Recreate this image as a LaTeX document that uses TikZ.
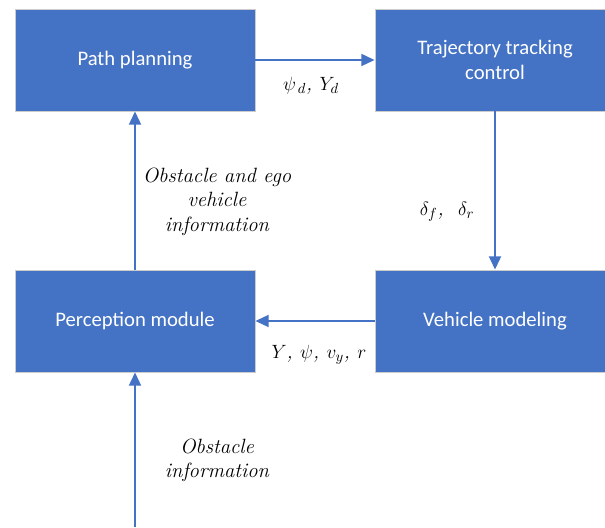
\documentclass[tikz,border=0pt]{standalone}
\usepackage{fontspec}
\newfontfamily\boxfont{Carlito}
\usetikzlibrary{arrows.meta}
\definecolor{boxblue}{HTML}{4472C4}
\tikzset{
  block/.style={fill=boxblue, draw=gray!40, line width=0.6pt, text=white,
    minimum width=180pt, minimum height=76.5pt, inner sep=0pt, align=center,
    font=\boxfont\fontsize{15.5}{19}\selectfont},
  flow/.style={draw=boxblue, line width=1.5pt, -{Triangle[length=10pt,width=9pt]}},
  lbl/.style={font=\itshape\fontsize{15.5}{18.4}\selectfont, align=center, anchor=center}
}
\begin{document}
\begin{tikzpicture}[x=0.75pt, y=-0.75pt]
    \useasboundingbox (0,0) rectangle (605,527);
    \clip (0,0) rectangle (605,527);
    \node[block] (path) at (135,60) {Path planning};
    \node[block] (track) at (495,60) {Trajectory tracking\\control};
    \node[block] (percep) at (135,321) {Perception module};
    \node[block] (vehicle) at (495,321) {Vehicle modeling};
    \coordinate (input) at (135,527);
    \draw[flow] (path.east) -- node[lbl, yshift=-19pt, xshift=-3pt] (lpsi) {$\psi_{\,d}$,\ $Y_{d}$} (track.west);
    \draw[flow] (track.south) -- node[lbl, pos=0.635, xshift=-36pt] (ldelta) {$\delta_f$,\ \ $\delta_r$} (vehicle.north);
    \draw[flow] (vehicle.west) -- node[lbl, yshift=-25pt, xshift=3pt] (lstate) {$Y$,\ $\psi$, $v_y$, $r$} (percep.east);
    \draw[flow] (percep.north) -- node[lbl, pos=0.43, xshift=61.5pt] (lego) {Obstacle and ego\\vehicle\\information} (path.south);
    \draw[flow] (input) -- node[lbl, pos=0.43, xshift=61.5pt] (lobst) {Obstacle\\information} (percep.south);
\end{tikzpicture}
\end{document}
